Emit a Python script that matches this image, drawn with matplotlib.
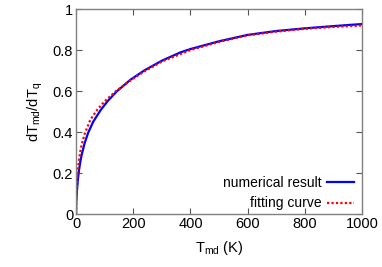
import matplotlib
matplotlib.use("Agg")
import matplotlib.pyplot as plt

plt.rcParams['font.family'] = ['Liberation Sans', 'DejaVu Sans']
plt.rcParams['mathtext.fontset'] = 'custom'
plt.rcParams['mathtext.rm'] = 'Liberation Sans'
plt.rcParams['mathtext.it'] = 'Liberation Sans'

# numerical result
num_t = [0, 1, 3, 6, 10, 15, 20, 30, 42, 60, 86, 110, 142, 190, 238,
         300, 364, 400, 500, 600, 700, 800, 900, 1000]
num_y = [0, 0.06, 0.11, 0.16, 0.21, 0.255, 0.29, 0.345, 0.395, 0.45, 0.507,
         0.55, 0.598, 0.655, 0.70, 0.748, 0.788, 0.805, 0.843, 0.874, 0.893,
         0.906, 0.917, 0.927]

# fitting curve
fit_t = [0, 1, 3, 6, 10, 15, 20, 30, 50, 75, 100, 140, 190, 240,
         300, 400, 500, 600, 700, 800, 900, 1000]
fit_y = [0, 0.09, 0.15, 0.21, 0.26, 0.305, 0.34, 0.39, 0.46, 0.51,
         0.55, 0.60, 0.652, 0.697, 0.744, 0.80, 0.84, 0.872, 0.89,
         0.904, 0.913, 0.92]

x_ticks = [0, 200, 400, 600, 800, 1000]
y_ticks = [0, 0.2, 0.4, 0.6, 0.8, 1]
y_tick_labels = ['0', '0.2', '0.4', '0.6', '0.8', '1']

fig = plt.figure(figsize=(3.82, 2.67), dpi=100)
ax = fig.add_axes([0.199, 0.1985, 0.749, 0.7675])

ax.plot(num_t, num_y, color='#0000ff', lw=1.6, label='numerical result')
ax.plot(fit_t, fit_y, color='#ff0000', lw=1.6, ls=(0, (1, 1)),
        label='fitting curve')

ax.set_xlim(0, 1000)
ax.set_ylim(0, 1)
ax.set_xticks(x_ticks)
ax.set_yticks(y_ticks)
ax.set_yticklabels(y_tick_labels)
ax.tick_params(direction='in', top=True, right=True, length=4,
               labelsize=10.5, color='#555555', pad=2)

for s in ax.spines.values():
    s.set_color('#808080')
    s.set_linewidth(1.0)

ax.set_xlabel(r'T$_{\mathrm{md}}$ (K)', fontsize=10.5, labelpad=6)
ax.set_ylabel(r'dT$_{\mathrm{md}}$/dT$_{\mathrm{q}}$', fontsize=10.5,
              labelpad=6)

ax.legend(loc='lower right', bbox_to_anchor=(1.005, -0.03), frameon=False,
          markerfirst=False, fontsize=10, handlelength=1.9, handletextpad=0.4,
          labelspacing=0.45, borderaxespad=0.3)

fig.savefig('out.png', dpi=100)
